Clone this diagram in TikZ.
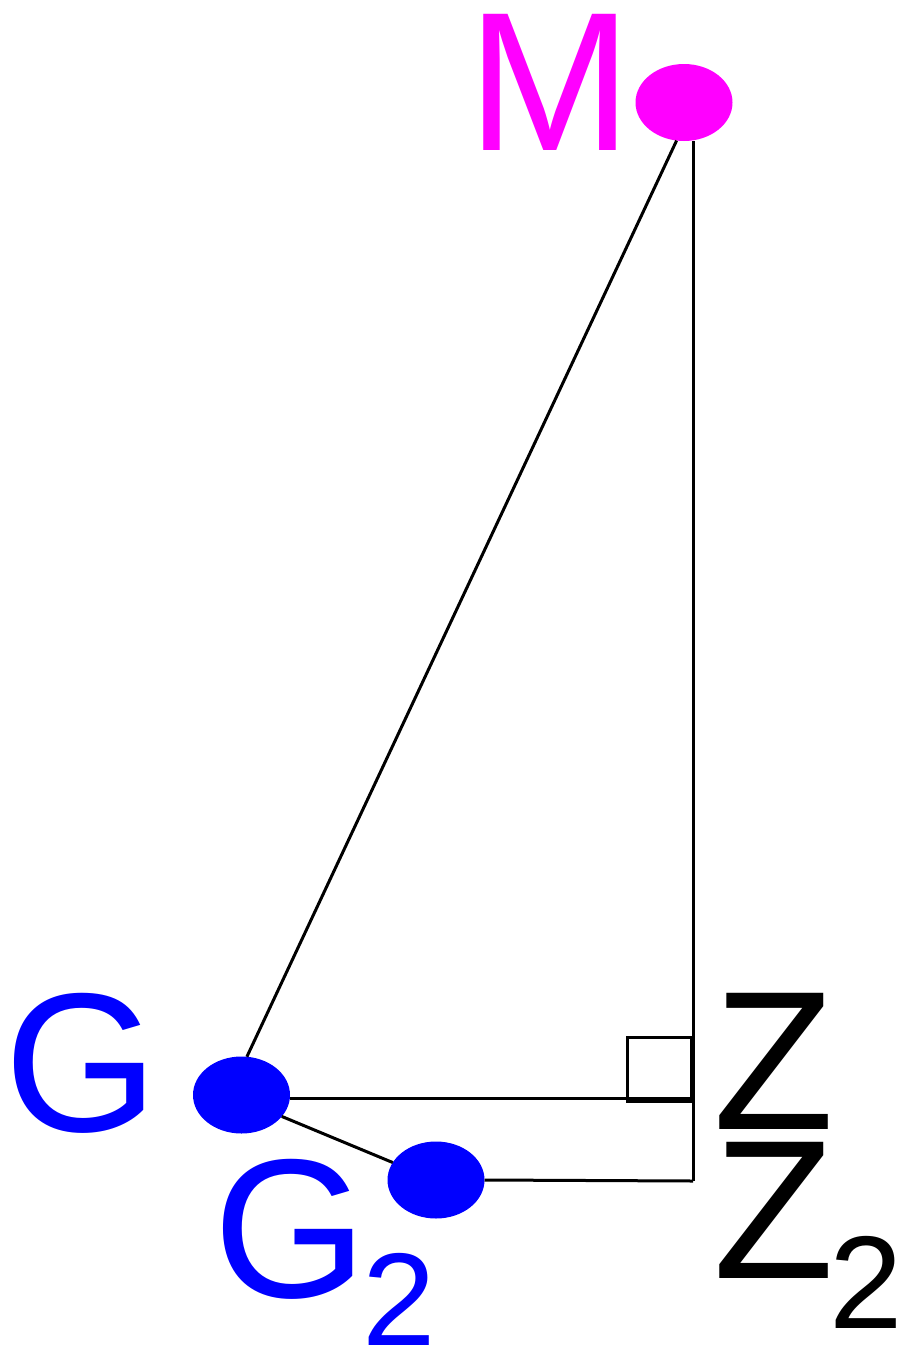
\documentclass[tikz,border=0pt]{standalone}
\usepackage{fontspec}
\setmainfont{Liberation Sans}
\usetikzlibrary{shapes.geometric}
\definecolor{mag}{RGB}{255,0,255}
\definecolor{blu}{RGB}{0,0,255}
\newcommand{\subtwo}[1]{\raisebox{-#1pt}{\fontsize{132}{132}\selectfont 2}}
\begin{document}
\begin{tikzpicture}[x=1pt,y=-1pt,
  dot/.style={ellipse, inner sep=0pt, outer sep=0pt, minimum width=97pt, minimum height=77pt},
  lbl/.style={inner sep=0pt, outer sep=0pt, anchor=base west, font=\fontsize{198}{198}\selectfont},
  edge/.style={line width=3pt, black}]
\useasboundingbox (0,0) rectangle (899,1349);
\coordinate (C2) at (693,1181);
\coordinate (C1) at (695,1098);
\node[dot, fill=mag] (M) at (684,102.5) {};
\node[dot, fill=blu] (G) at (241.5,1095) {};
\node[dot, fill=blu] (G2) at (436,1180) {};
\draw[edge] (M.-101) -- (G.82);
\draw[edge] (M.south -| C2) -- (C2);
\draw[edge] ([yshift=-3pt]G.east) -- (C1);
\draw[edge] (G.-28) -- (G2.158);
\draw[edge] (G2.east) -- (C2);
\node[draw, line width=3pt, minimum size=64pt, inner sep=0pt] (ra) at (659,1069) {};
% labels
\node[lbl, text=mag] (Mt) at (467.5,150) {M};
\node[lbl] (Zt) at (713,1129) {Z};
\node[lbl] (Z2t) at (713,1278) {Z\kern-4pt\subtwo{50}};
\node[lbl, text=blu] (Gt) at (4.5,1131) {G};
\node[lbl, text=blu] (G2t) at (213.5,1297) {G\kern-5pt\subtwo{48}};
\end{tikzpicture}
\end{document}
